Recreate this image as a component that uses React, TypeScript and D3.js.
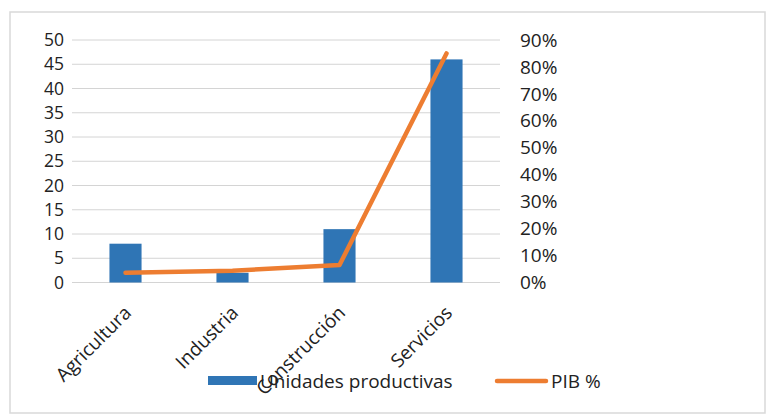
import React from "react";
import * as d3 from "d3";

const categories = ["Agricultura", "Industria", "Construcción", "Servicios"];
const unidades = [8, 2, 11, 46];
const pib = [0.036, 0.044, 0.065, 0.85];
const leftTicks = [0, 5, 10, 15, 20, 25, 30, 35, 40, 45, 50];
const rightTicks = [0, 0.1, 0.2, 0.3, 0.4, 0.5, 0.6, 0.7, 0.8, 0.9];

const W = 768, H = 416;
const FONT = "'Open Sans', sans-serif";
const FS = 19;

export default function App() {
  const x = d3.scaleBand<string>().domain(categories).range([72, 500]);
  const yL = d3.scaleLinear().domain([0, 50]).range([282.5, 40]);
  const yR = d3.scaleLinear().domain([0, 0.9]).range([282.5, 40]);
  const bw = x.bandwidth() * 0.3;
  const line = d3
    .line<number>()
    .x((_, i) => x(categories[i])! + x.bandwidth() / 2)
    .y((d) => yR(d));
  const pct = d3.format(".0%");

  return (
    <svg width={W} height={H} style={{ position: "absolute", left: 0, top: 0, background: "#fff" }} fontFamily={FONT}>
      <rect x={10} y={12} width={755} height={401} fill="#fff" stroke="#d9d9d9" strokeWidth={1.5} />
      {leftTicks.map((t) => (
        <line key={"g" + t} x1={72} x2={500} y1={yL(t)} y2={yL(t)} stroke="#d4d4d4" strokeWidth={1} />
      ))}
      {leftTicks.map((t) => (
        <text key={"l" + t} x={64} y={yL(t)} dy="0.35em" textAnchor="end" fontSize={17.5} fill="#222">
          {t}
        </text>
      ))}
      {rightTicks.map((t) => (
        <text key={"r" + t} x={520} y={yR(t)} dy="0.35em" textAnchor="start" fontSize={FS} fill="#222">
          {pct(t)}
        </text>
      ))}
      {unidades.map((v, i) => (
        <rect
          key={"b" + i}
          x={x(categories[i])! + x.bandwidth() / 2 - bw / 2}
          y={yL(v)}
          width={bw}
          height={yL(0) - yL(v)}
          fill="#2F75B5"
        />
      ))}
      <path d={line(pib) || ""} fill="none" stroke="#ED7D31" strokeWidth={4.5} strokeLinejoin="round" strokeLinecap="round" />
      {categories.map((c) => {
        const cx = x(c)! + x.bandwidth() / 2 + 7;
        const cy = 314;
        return (
          <text
            key={"c" + c}
            x={cx}
            y={cy}
            textAnchor="end"
            fontSize={FS}
            fill="#222"
            transform={`rotate(-45, ${cx}, ${cy})`}
          >
            {c}
          </text>
        );
      })}
      <rect x={208} y={376} width={49} height={9} fill="#2F75B5" />
      <text x={260} y={381} dy="0.35em" fontSize={FS} fill="#222">
        Unidades productivas
      </text>
      <line x1={497} x2={546} y1={381} y2={381} stroke="#ED7D31" strokeWidth={4.5} strokeLinecap="round" />
      <text x={551} y={381} dy="0.35em" fontSize={FS} fill="#222">
        PIB %
      </text>
    </svg>
  );
}
